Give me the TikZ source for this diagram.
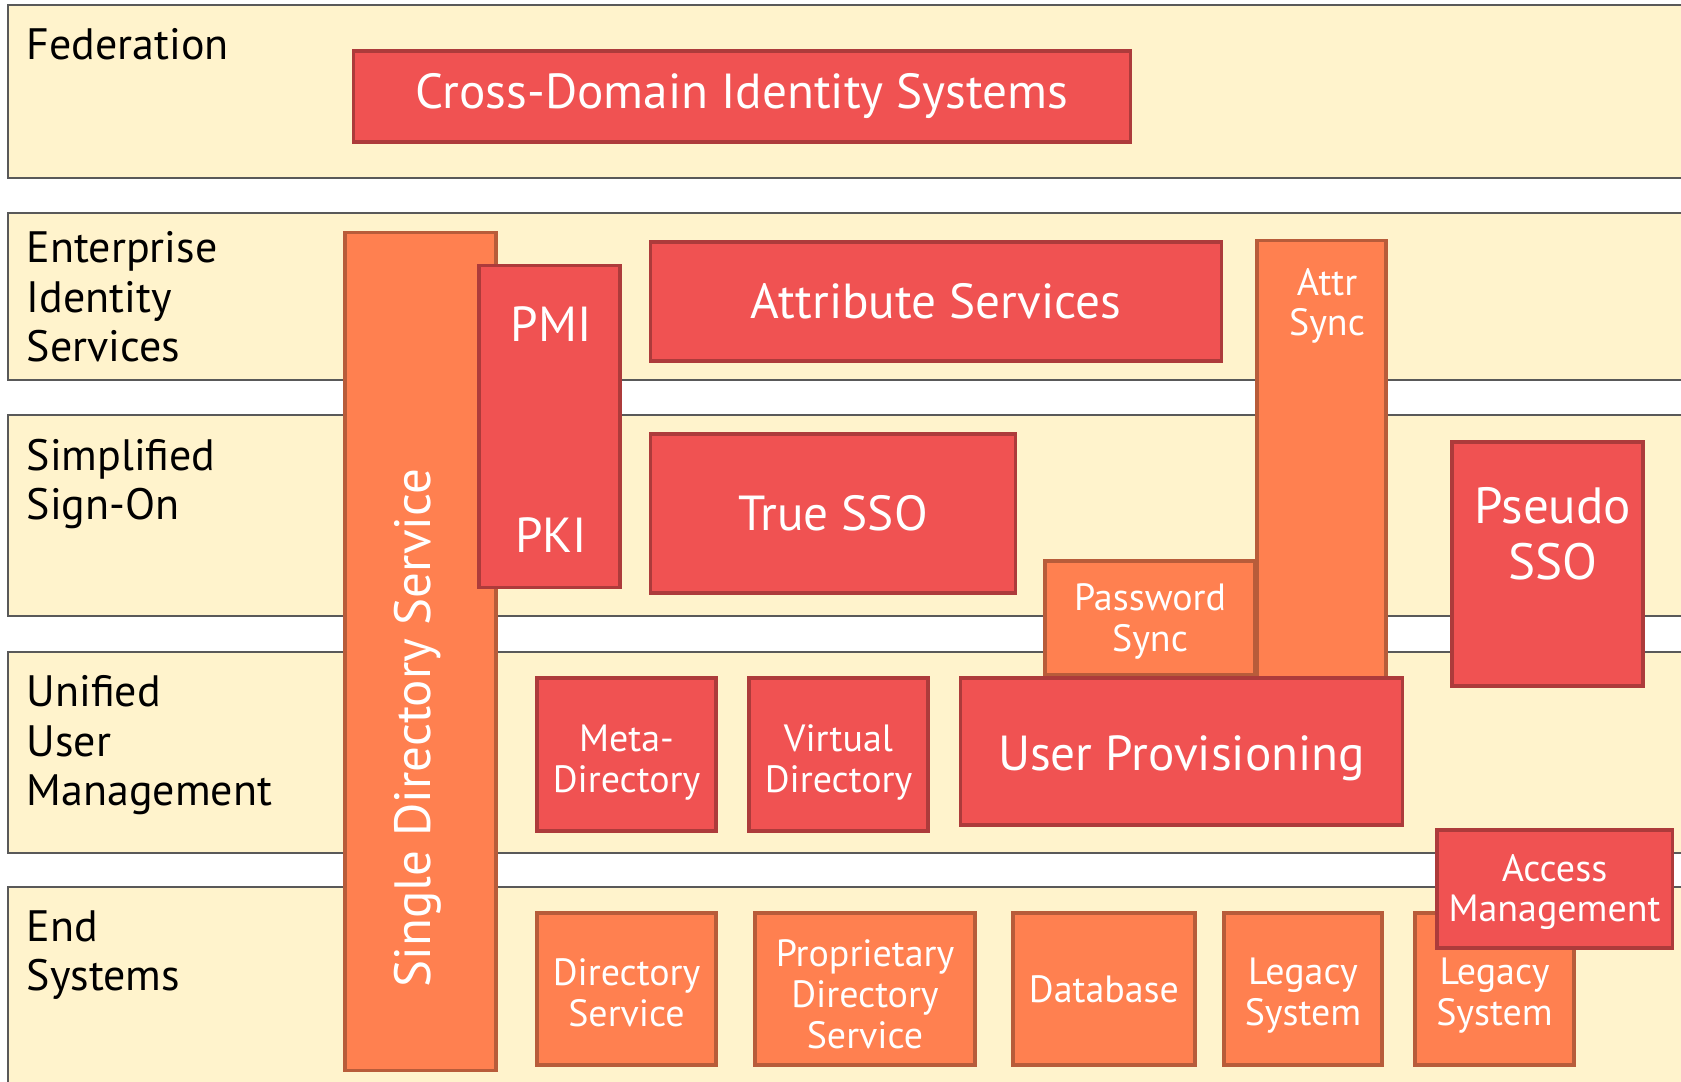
\documentclass[tikz,border=0pt]{standalone}
\usepackage{fontspec}
\setmainfont{PT Sans}

\begin{document}
\begin{tikzpicture}[x=0.01cm, y=-0.01cm,
    band/.style={draw=black!65, line width=0.6pt, fill=bandcolor},
    layername/.style={anchor=north west, inner sep=0pt, align=left, font=\fontsize{12.5}{14}\selectfont},
    box/.style={draw=#1!72!black, line width=0.9pt, fill=#1, text=white, align=center, inner sep=0pt},
    bigtext/.style={font=\fontsize{14}{16}\selectfont},
    smalltext/.style={font=\fontsize{10.8}{11.6}\selectfont},
    whitelabel/.style={text=white, inner sep=0pt, align=center}]
    % Define colors
    \definecolor{bandcolor}{RGB}{255, 243, 204}
    \definecolor{redcolor}{RGB}{240, 82, 82}
    \definecolor{orangecolor}{RGB}{255, 128, 80}

    \useasboundingbox (0, 0) rectangle (1681, 1082);
    \clip (0, 0) rectangle (1681, 1082);

    % Layers
    \draw[band] (8, 5) rectangle (1700, 178);
    \draw[band] (8, 213) rectangle (1700, 380);
    \draw[band] (8, 415) rectangle (1700, 616);
    \draw[band] (8, 652) rectangle (1700, 853);
    \draw[band] (8, 887) rectangle (1700, 1100);

    % Layer names
    \node[layername] (federation) at (26, 28) {Federation};
    \node[layername] (enterprise) at (26, 231) {Enterprise\\Identity\\Services};
    \node[layername] (simplified) at (26, 438) {Simplified\\Sign-On};
    \node[layername] (unified) at (26, 675) {Unified\\User\\Management};
    \node[layername] (endsys) at (26, 910) {End\\Systems};

    % Federation
    \node[box=redcolor, bigtext, minimum width=7.76cm, minimum height=0.91cm] (crossdomain) at (742, 96.5) {Cross-Domain Identity Systems};

    % Vertical bars
    \node[box=orangecolor, minimum width=1.51cm, minimum height=8.37cm] (sds) at (420.5, 651.5) {};
    \node[whitelabel, rotate=90, font=\fontsize{14.5}{17}\selectfont] (sdslabel) at (418, 728) {Single Directory Service};
    \node[box=redcolor, minimum width=1.41cm, minimum height=3.21cm] (pmipki) at (549.5, 426.5) {};
    \node[whitelabel, bigtext] (pmi) at (551, 324) {PMI};
    \node[whitelabel, bigtext] (pki) at (551, 535) {PKI};
    \node[box=orangecolor, minimum width=1.29cm, minimum height=4.37cm] (attrsync) at (1321.5, 459.5) {};
    \node[whitelabel, smalltext, text height=20.4pt] (attrsynclabel) at (1327, 304) {Attr\\Sync};

    % Enterprise identity services
    \node[box=redcolor, bigtext, minimum width=5.70cm, minimum height=1.19cm] (attrsvc) at (936, 301.5) {Attribute Services};

    % Simplified sign-on
    \node[box=redcolor, bigtext, minimum width=3.64cm, minimum height=1.59cm] (truesso) at (833, 513.5) {True SSO};
    \node[box=orangecolor, smalltext, text height=21pt, minimum width=2.10cm, minimum height=1.14cm] (pwsync) at (1150, 618) {Password\\Sync};
    \node[box=redcolor, minimum width=1.91cm, minimum height=2.44cm] (pseudosso) at (1547.5, 564) {};
    \node[whitelabel, font=\fontsize{14.5}{16}\selectfont] (pseudolabel) at (1553, 534) {Pseudo\\SSO};

    % Unified user management
    \node[box=redcolor, smalltext, text height=23.9pt, minimum width=1.79cm, minimum height=1.53cm] (metadir) at (626.5, 754.5) {Meta-\\Directory};
    \node[box=redcolor, smalltext, text height=23.9pt, minimum width=1.79cm, minimum height=1.53cm] (virtdir) at (838.5, 754.5) {Virtual\\Directory};
    \node[box=redcolor, bigtext, text height=13.9pt, minimum width=4.41cm, minimum height=1.47cm] (userprov) at (1181.5, 751.5) {User Provisioning};

    % End systems
    \node[box=orangecolor, smalltext, text height=21.6pt, minimum width=1.79cm, minimum height=1.52cm] (dirsvc) at (626.5, 989) {Directory\\Service};
    \node[box=orangecolor, smalltext, text height=33.8pt, minimum width=2.20cm, minimum height=1.52cm] (propdir) at (865, 989) {Proprietary\\Directory\\Service};
    \node[box=orangecolor, smalltext, minimum width=1.82cm, minimum height=1.52cm] (database) at (1104, 989) {Database};
    \node[box=orangecolor, smalltext, text height=22.7pt, minimum width=1.58cm, minimum height=1.52cm] (legacya) at (1303, 989) {Legacy\\System};
    \node[box=orangecolor, smalltext, text height=22.7pt, minimum width=1.59cm, minimum height=1.52cm] (legacyb) at (1494.5, 989) {Legacy\\System};
    \node[box=redcolor, smalltext, text height=21pt, minimum width=2.35cm, minimum height=1.18cm] (accessmgmt) at (1554.5, 889) {Access\\Management};

\end{tikzpicture}
\end{document}
